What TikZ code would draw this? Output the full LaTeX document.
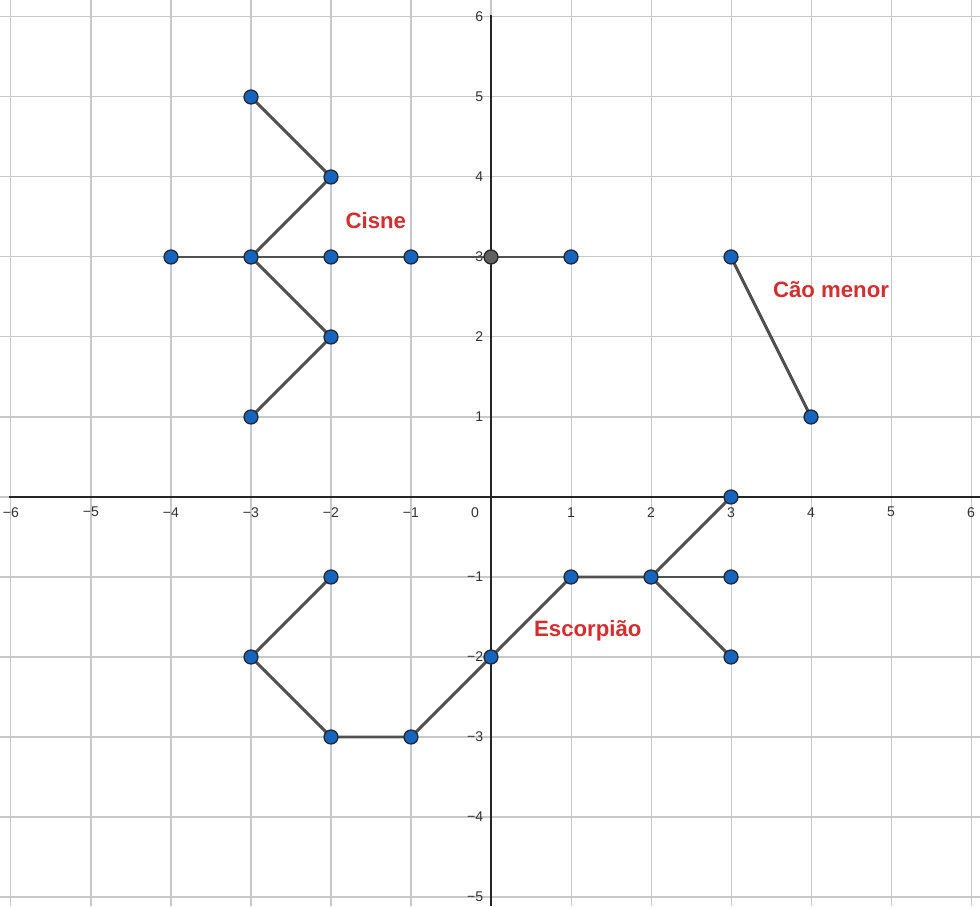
\documentclass[tikz,border=0pt]{standalone}
\usepackage{fontspec}
\setmainfont{Liberation Sans}
\definecolor{gridc}{RGB}{200,200,200}
\definecolor{axisc}{RGB}{37,37,37}
\definecolor{segc}{RGB}{80,80,80}
\definecolor{ptblue}{RGB}{21,101,192}
\definecolor{ptgray}{RGB}{97,97,97}
\definecolor{labred}{RGB}{211,47,47}
\definecolor{tickc}{RGB}{51,51,51}
\begin{document}
\begin{tikzpicture}[x=1cm,y=1cm,
  pt/.style={circle,draw=black!85,fill=ptblue,line width=0.45pt,inner sep=0pt,minimum size=1.75mm},
  ptg/.style={pt,fill=ptgray},
  seg/.style={draw=segc,line width=1.05pt},
  tick/.style={font=\fontsize{5}{6}\selectfont,text=tickc,inner sep=0pt},
  cname/.style={font=\fontsize{7.9}{9}\selectfont\bfseries,text=labred,inner sep=0pt}]
\useasboundingbox[fill=white] (-6.1375,-5.1125) rectangle (6.1125,6.2125);
% grid
\foreach \x in {-6,...,6} \draw[gridc,line width=0.36pt] (\x,-5.1125) -- (\x,6.2125);
\foreach \y in {-5,...,6} \draw[gridc,line width=0.36pt] (-6.1375,\y) -- (6.1125,\y);
% axes
\coordinate (xl) at (-6.03,0); \coordinate (xr) at (6.1125,0);
\coordinate (yb) at (0,-5.1125); \coordinate (yt) at (0,6.03);
\draw[axisc,line width=0.55pt] (xl) -- (xr);
\draw[axisc,line width=0.55pt] (yb) -- (yt);
% tick labels
\foreach \x in {-6,...,-1} \node[tick] (tx\x) at (\x,-0.19) {−\the\numexpr-\x\relax};
\foreach \x in {1,...,6} \node[tick] (tx\x) at (\x,-0.19) {\x};
\foreach \y in {-5,...,-1} \node[tick,anchor=east] (ty\y) at (-0.09,\y) {−\the\numexpr-\y\relax};
\foreach \y in {1,...,6} \node[tick,anchor=east] (ty\y) at (-0.09,\y) {\y};
\node[tick] (t0) at (-0.2,-0.19) {0};
% Cisne
\path (-3,5) coordinate (c1) (-2,4) coordinate (c2) (-4,3) coordinate (c3)
      (-3,3) coordinate (c4) (-2,3) coordinate (c5) (-1,3) coordinate (c6)
      (0,3) coordinate (c7) (1,3) coordinate (c8) (-2,2) coordinate (c9) (-3,1) coordinate (c10);
\draw[seg] (c1) -- (c2) -- (c4);
\draw[seg] (c3) -- (c8);
\draw[seg] (c4) -- (c9) -- (c10);
% Cao menor
\path (3,3) coordinate (m1) (4,1) coordinate (m2);
\draw[seg] (m1) -- (m2);
% Escorpiao
\path (-2,-1) coordinate (e1) (-3,-2) coordinate (e2) (-2,-3) coordinate (e3)
      (-1,-3) coordinate (e4) (0,-2) coordinate (e5) (1,-1) coordinate (e6)
      (2,-1) coordinate (e7) (3,0) coordinate (e8) (3,-1) coordinate (e9) (3,-2) coordinate (e10);
\draw[seg] (e1) -- (e2) -- (e3) -- (e4) -- (e5) -- (e6) -- (e7) -- (e8);
\draw[seg] (e7) -- (e9);
\draw[seg] (e7) -- (e10);
% points
\foreach \p in {c1,c2,c3,c4,c5,c6,c8,c9,c10,m1,m2,e1,e2,e3,e4,e5,e6,e7,e8,e9,e10}
  \node[pt] (P\p) at (\p) {};
\node[ptg] (Pc7) at (c7) {};
% names
\node[cname] (cisne) at (-1.44,3.46) {Cisne};
\node[cname] (cao) at (4.25,2.59) {Cão menor};
\node[cname] (esc) at (1.21,-1.675) {Escorpião};
\end{tikzpicture}
\end{document}
